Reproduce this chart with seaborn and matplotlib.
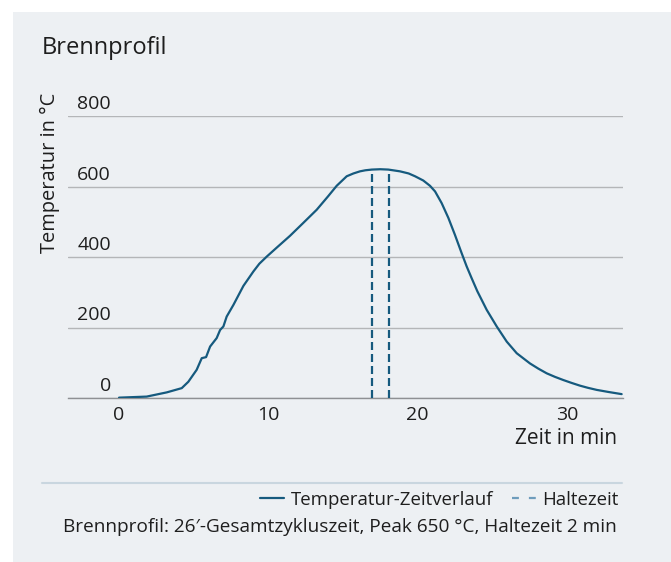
import matplotlib
matplotlib.use("Agg")
import matplotlib.pyplot as plt
import matplotlib.transforms as mtransforms
from matplotlib.patches import Rectangle
from matplotlib.lines import Line2D
import seaborn as sns
import pandas as pd

# temperature profile (minutes, deg C)
zeit = [0.0, 1.85, 3.2, 4.2, 4.64, 5.2, 5.54, 5.83, 6.1, 6.54, 6.77, 6.99, 7.21,
        7.66, 8.33, 9.0, 9.4, 9.89, 10.6, 11.45, 12.3, 13.24, 14.0, 14.58,
        15.25, 15.7, 16.14, 16.5, 16.93, 17.5, 18.04, 18.82, 19.4, 19.83,
        20.38, 20.83, 21.17, 21.61, 22.06, 22.5, 22.95, 23.29, 23.62, 24.0,
        24.63, 25.3, 25.97, 26.64, 27.1, 27.53, 28.1, 28.65, 29.2, 29.76,
        30.3, 30.88, 31.4, 32.0, 32.8, 33.67]
temperatur = [1, 4, 16, 28, 46, 80, 113, 116, 146, 170, 193, 203, 231,
              264, 318, 359, 381, 401, 428, 460, 495, 534, 572, 602,
              629, 637, 643, 646, 648, 649, 648, 643, 637, 629,
              617, 602, 586, 553, 511, 463, 411, 373, 340, 303,
              250, 203, 160, 127, 112, 98, 83, 70, 60, 51,
              43, 35, 29, 23, 17, 11]

halte_zeit = [16.93, 18.08]
halte_temp = 648

y_ticks = [0, 200, 400, 600, 800]
x_ticks = [0, 10, 20, 30]

df = pd.DataFrame({"Zeit": zeit, "Temperatur": temperatur})

LINE = "#165A7E"
LINE_LIGHT = "#6E9CBC"
PANEL = "#EDF0F3"
TEXT = "#1E1E1E"
FS = 14

sns.set_theme(style="white")
plt.rcParams["font.family"] = ["Open Sans", "DejaVu Sans"]

W, H = 671, 562
fig = plt.figure(figsize=(W / 100, H / 100), dpi=100)
fig.patch.set_facecolor("white")
fig.patches.append(Rectangle((13 / W, 0), 1 - 13 / W, 1 - 12 / H,
                             transform=fig.transFigure, facecolor=PANEL,
                             edgecolor="none", zorder=-10))

ax = fig.add_axes([68 / W, 1 - 398 / H, 555 / W, 282 / H])
ax.set_facecolor("none")

sns.lineplot(data=df, x="Zeit", y="Temperatur", ax=ax, color=LINE,
             linewidth=1.6, legend=False, zorder=3)
ax.vlines(halte_zeit, 0, halte_temp, colors=LINE, linestyles=(0, (3.6, 1.8)),
          linewidth=1.6, zorder=3)

ax.set_xlim(-3.42, 33.76)
ax.set_ylim(0, 800)
ax.set_xticks(x_ticks)
ax.set_yticks(y_ticks)
ax.yaxis.grid(True, color="#B4B6B8", linewidth=1.0)
ax.set_axisbelow(True)
for s in ["top", "right", "left"]:
    ax.spines[s].set_visible(False)
ax.spines["bottom"].set_color("#8E9093")
ax.spines["bottom"].set_linewidth(1.0)

ax.tick_params(axis="both", length=0, labelsize=FS, colors=TEXT)
ax.tick_params(axis="x", pad=6)
ax.tick_params(axis="y", pad=0)
offset = mtransforms.ScaledTranslation(43 / 100, 3 / 100, fig.dpi_scale_trans)
for lab in ax.get_yticklabels():
    lab.set_verticalalignment("bottom")
    lab.set_transform(lab.get_transform() + offset)

ax.set_xlabel("")
ax.set_ylabel("")
fig.text(617 / W, 1 - 438 / H, "Zeit in min", ha="right", va="center",
         fontsize=15, color=TEXT)
fig.text(50 / W, 1 - 93 / H, "Temperatur in °C", ha="center", va="top",
         rotation=90, fontsize=14.4, color=TEXT)
fig.text(42 / W, 1 - 48 / H, "Brennprofil", ha="left", va="center",
         fontsize=17, color=TEXT)

# separator line above legend
fig.lines.append(Line2D([42 / W, 622 / W], [1 - 483 / H, 1 - 483 / H],
                        transform=fig.transFigure, color="#C9D6DF",
                        linewidth=1.5))

handles = [Line2D([], [], color=LINE, linewidth=1.6),
           Line2D([], [], color=LINE_LIGHT, linewidth=1.6,
                  linestyle=(0, (3.1, 4.5)))]
labels = ["Temperatur-Zeitverlauf", "Haltezeit"]
fig.legend(handles, labels, loc="center right",
           bbox_to_anchor=(619 / W, 1 - 500 / H), ncol=2, frameon=False,
           fontsize=13.4, handlelength=1.3, handletextpad=0.35,
           columnspacing=1.0, borderaxespad=0, borderpad=0,
           labelcolor=TEXT)
fig.text(617 / W, 1 - 527 / H,
         "Brennprofil: 26′-Gesamtzykluszeit, Peak 650 °C, Haltezeit 2 min",
         ha="right", va="center", fontsize=13.7, color=TEXT)

fig.savefig("out.png", dpi=100, facecolor="white")
